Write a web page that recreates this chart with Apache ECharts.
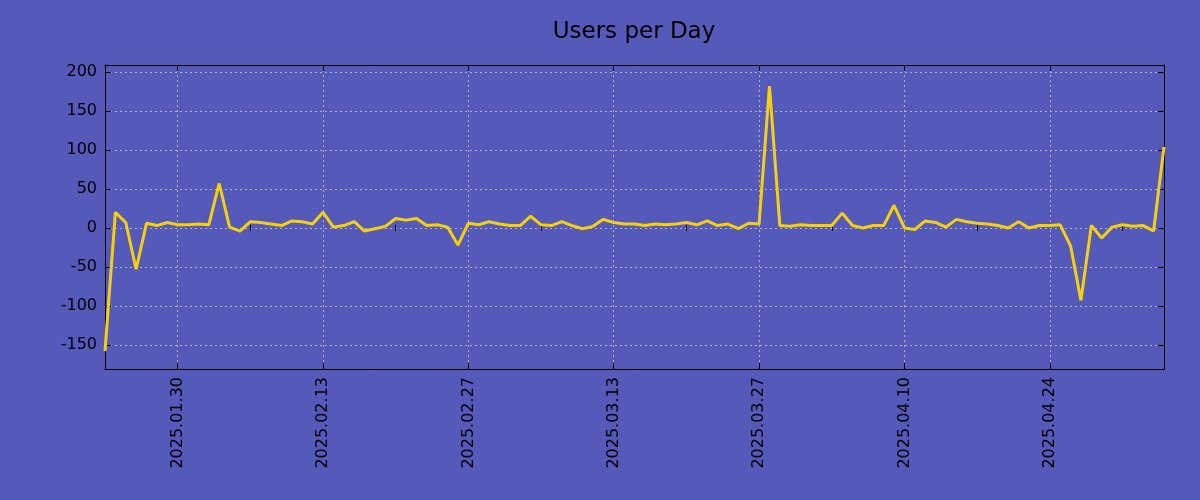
<!DOCTYPE html>
<html>
<head>
<meta charset="utf-8">
<script src="https://cdn.jsdelivr.net/npm/echarts@6/dist/echarts.min.js"></script>
<style>
html,body{margin:0;padding:0;background:#5459BA;}
#chart{width:1200px;height:500px;}
</style>
</head>
<body>
<div id="chart"></div>
<script>
// Data
const startDate = '2025-01-23';
const dayCount = 103;
const users = [
  -158, 20, 7, -53, 6, 3, 7, 4, 4, 5,
  4, 57, 1, -4, 8, 7, 5, 3, 9, 8,
  5, 20, 1, 3, 8, -4, -1, 2, 12, 10,
  12, 3, 4, 1, -22, 6, 4, 8, 5, 3,
  3, 15, 4, 3, 8, 3, -1, 2, 11, 7,
  5, 5, 3, 5, 4, 5, 7, 4, 9, 3,
  5, -1, 6, 5, 182, 3, 2, 4, 3, 3,
  3, 19, 3, 0, 3, 3, 29, 0, -2, 9,
  7, 1, 11, 8, 6, 5, 3, 0, 8, 0,
  3, 3, 4, -23, -93, 3, -13, 1, 4, 2,
  3, -4, 104
];
const titleText = 'Users per Day';

// categories (dates)
const dates = [];
(function(){
  const d0 = new Date(startDate + 'T00:00:00Z');
  for (let i = 0; i < dayCount; i++) {
    const d = new Date(d0.getTime() + i * 86400000);
    const mm = String(d.getUTCMonth() + 1).padStart(2, '0');
    const dd = String(d.getUTCDate()).padStart(2, '0');
    dates.push(d.getUTCFullYear() + '.' + mm + '.' + dd);
  }
})();

const FONT = 'DejaVu Sans';
const majorFn = (i) => i % 14 === 7;
const minorFn = (i) => i % 7 === 0 && i % 14 !== 7;
const gridLine = { show: true, lineStyle: { color: '#b4b4c0', width: 1, type: [2, 3] } };
const axisLine = { show: true, onZero: false, lineStyle: { color: '#000', width: 1 } };

const chart = echarts.init(document.getElementById('chart'), null, { renderer: 'canvas' });
chart.setOption({
  animation: false,
  backgroundColor: '#5459BA',
  title: {
    text: titleText,
    left: 634,
    top: 21,
    padding: 0,
    textAlign: 'center',
    textStyle: { fontFamily: FONT, fontSize: 23, fontWeight: 'normal', color: '#000' }
  },
  grid: { left: 105, right: 36, top: 65, bottom: 131, containLabel: false },
  xAxis: [
    {
      type: 'category', data: dates, boundaryGap: false, position: 'bottom',
      axisLine: axisLine,
      axisTick: { show: true, inside: true, length: 6, interval: majorFn, lineStyle: { color: '#000' } },
      axisLabel: { show: true, interval: majorFn, rotate: 90, margin: 8, fontFamily: FONT, fontSize: 16, color: '#000' },
      splitLine: Object.assign({ interval: majorFn }, gridLine)
    },
    {
      type: 'category', data: dates, boundaryGap: false, position: 'bottom',
      axisLine: { show: false },
      axisTick: { show: true, inside: true, length: 3, interval: minorFn, lineStyle: { color: '#000' } },
      axisLabel: { show: false }, splitLine: { show: false }
    },
    {
      type: 'category', data: dates, boundaryGap: false, position: 'top',
      axisLine: axisLine,
      axisTick: { show: true, inside: true, length: 6, interval: majorFn, lineStyle: { color: '#000' } },
      axisLabel: { show: false }, splitLine: { show: false }
    },
    {
      type: 'category', data: dates, boundaryGap: false, position: 'top',
      axisLine: { show: false },
      axisTick: { show: true, inside: true, length: 3, interval: minorFn, lineStyle: { color: '#000' } },
      axisLabel: { show: false }, splitLine: { show: false }
    }
  ],
  yAxis: [
    {
      type: 'value', position: 'left', min: -181, max: 209, splitNumber: 8,
      axisLine: axisLine,
      axisTick: { show: true, inside: true, length: 6, lineStyle: { color: '#000' } },
      axisLabel: { show: true, margin: 8, fontFamily: FONT, fontSize: 16, color: '#000', showMinLabel: false, showMaxLabel: false },
      splitLine: gridLine
    },
    {
      type: 'value', position: 'right', min: -181, max: 209, splitNumber: 8,
      axisLine: axisLine,
      axisTick: { show: true, inside: true, length: 6, lineStyle: { color: '#000' } },
      axisLabel: { show: false }, splitLine: { show: false }
    }
  ],
  series: [{
    type: 'line', data: users, xAxisIndex: 0, yAxisIndex: 0,
    showSymbol: false, symbol: 'none', smooth: false,
    lineStyle: { color: '#F5D00E', width: 3 },
    itemStyle: { color: '#F5D00E' },
    clip: true
  }]
});
</script>
</body>
</html>
